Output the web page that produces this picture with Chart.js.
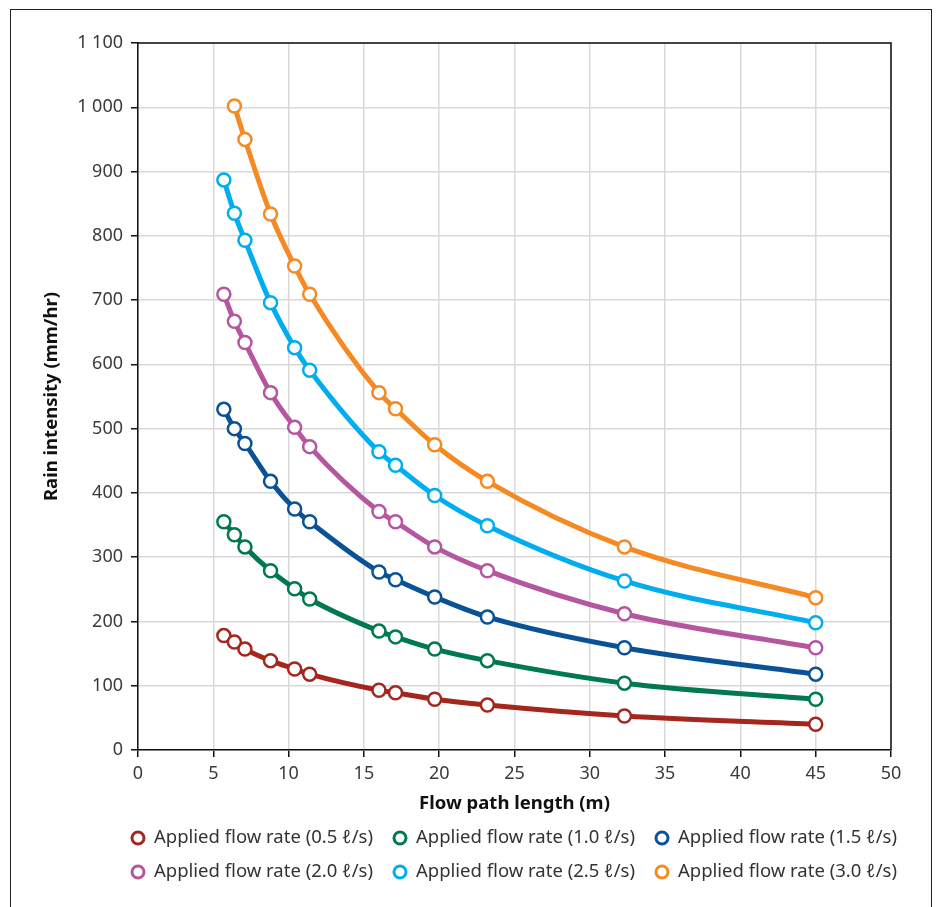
<!DOCTYPE html>
<html>
<head>
<meta charset="utf-8">
<script src="https://cdn.jsdelivr.net/npm/chart.js@4.4.1/dist/chart.umd.min.js"></script>
<style>
  body { margin: 0; background: #fff; }
  #frame { position: absolute; left: 10px; top: 9px; width: 920px; height: 940px; border: 1.5px solid #222; }
  #wrap { position: absolute; left: 0; top: 0; width: 936px; height: 907px; }
</style>
</head>
<body>
<div id="frame"></div>
<div id="wrap"><canvas id="rainChart"></canvas></div>
<script>
// flow path length (m), shared by all series
const flowPath = [5.7, 6.4, 7.1, 8.8, 10.4, 11.4, 16.0, 17.1, 19.7, 23.2, 32.3, 45.0];

// rain intensity (mm/hr) per applied flow rate
const rate05 = [178, 168, 157, 139, 126, 118, 93, 89, 79, 70, 53, 40];
const rate10 = [355, 335, 316, 279, 251, 235, 185, 176, 157, 139, 104, 79];
const rate15 = [530, 500, 477, 418, 375, 355, 277, 265, 238, 207, 159, 118];
const rate20 = [709, 667, 634, 556, 502, 472, 371, 355, 316, 279, 212, 159];
const rate25 = [887, 835, 793, 696, 626, 591, 464, 443, 396, 349, 263, 198];
const rate30 = [null, 1002, 950, 834, 753, 709, 556, 531, 475, 418, 316, 237];

const seriesLabels = [
    'Applied flow rate (0.5 ℓ/s)', 'Applied flow rate (1.0 ℓ/s)', 'Applied flow rate (1.5 ℓ/s)',
    'Applied flow rate (2.0 ℓ/s)', 'Applied flow rate (2.5 ℓ/s)', 'Applied flow rate (3.0 ℓ/s)'
];
const seriesColors = ['#a4261d', '#00794c', '#0a5296', '#b5569f', '#00aeef', '#f68a22'];
const seriesValues = [rate05, rate10, rate15, rate20, rate25, rate30];

const FONT = "'Noto Sans', 'Open Sans', sans-serif";

function toPoints(values) {
    const pts = [];
    values.forEach((v, i) => {
        if (v !== null) pts.push({ x: flowPath[i], y: v });
    });
    return pts;
}

const datasets = seriesValues.map((vals, i) => ({
    label: seriesLabels[i],
    data: toPoints(vals),
    borderColor: seriesColors[i],
    backgroundColor: '#fff',
    pointBackgroundColor: '#fff',
    pointBorderColor: seriesColors[i],
    borderWidth: 5,
    pointRadius: 6.5,
    pointBorderWidth: 2.5,
    cubicInterpolationMode: 'monotone',
    fill: false
}));

// black line along top & right of plot area
const frameEdges = {
    id: 'frameEdges',
    beforeDatasetsDraw(chart) {
        const { ctx, chartArea: a } = chart;
        ctx.save();
        ctx.strokeStyle = '#111';
        ctx.lineWidth = 1.5;
        ctx.beginPath();
        ctx.moveTo(a.left, a.top);
        ctx.lineTo(a.right, a.top);
        ctx.lineTo(a.right, a.bottom);
        ctx.stroke();
        ctx.restore();
    }
};

// legend laid out in 3 columns x 2 rows
const gridLegend = {
    id: 'gridLegend',
    afterDraw(chart) {
        const ctx = chart.ctx;
        const colX = [138, 400, 662];
        const rowY = [837, 871];
        ctx.save();
        ctx.font = '18.5px ' + FONT;
        ctx.textBaseline = 'middle';
        ctx.textAlign = 'left';
        chart.data.datasets.forEach((ds, i) => {
            const x = colX[i % 3], y = rowY[Math.floor(i / 3)];
            ctx.beginPath();
            ctx.arc(x, y + 1, 6, 0, Math.PI * 2);
            ctx.fillStyle = '#fff';
            ctx.fill();
            ctx.lineWidth = 3;
            ctx.strokeStyle = ds.borderColor;
            ctx.stroke();
            ctx.fillStyle = '#333';
            ctx.fillText(ds.label, x + 16, y + 1);
        });
        ctx.restore();
    }
};

const ctx = document.getElementById('rainChart');
new Chart(ctx, {
    type: 'line',
    data: { datasets: datasets },
    options: {
        responsive: true,
        maintainAspectRatio: false,
        animation: false,
        layout: { padding: { top: 43, right: 45, left: 0, bottom: 92 } },
        plugins: {
            legend: { display: false },
            tooltip: { enabled: false }
        },
        scales: {
            x: {
                type: 'linear',
                min: 0,
                max: 50,
                ticks: { stepSize: 5, color: '#3a3a3a', font: { family: FONT, size: 18 }, padding: 6 },
                grid: { color: '#d9d9d9', lineWidth: 1.5, tickColor: '#111', tickLength: 7 },
                border: { color: '#111', width: 1.5 },
                title: {
                    display: true,
                    text: 'Flow path length (m)',
                    color: '#111',
                    font: { family: FONT, size: 18.5, weight: 'bold' },
                    padding: { top: 0, bottom: 0 }
                },
                afterFit(scale) { scale.height = 65; }
            },
            y: {
                min: 0,
                max: 1100,
                ticks: {
                    stepSize: 100,
                    color: '#3a3a3a',
                    font: { family: FONT, size: 18 },
                    padding: 8,
                    callback: v => v >= 1000 ? Math.floor(v / 1000) + ' ' + String(v % 1000).padStart(3, '0') : v
                },
                grid: { color: '#d9d9d9', lineWidth: 1.5, tickColor: '#111', tickLength: 7 },
                border: { color: '#111', width: 1.5 },
                title: {
                    display: true,
                    text: 'Rain intensity (mm/hr)',
                    color: '#111',
                    font: { family: FONT, size: 18.5, weight: 'bold' },
                    padding: { top: 41, bottom: 0 }
                },
                afterFit(scale) { scale.width = 138; }
            }
        }
    },
    plugins: [frameEdges, gridLegend]
});
</script>
</body>
</html>
